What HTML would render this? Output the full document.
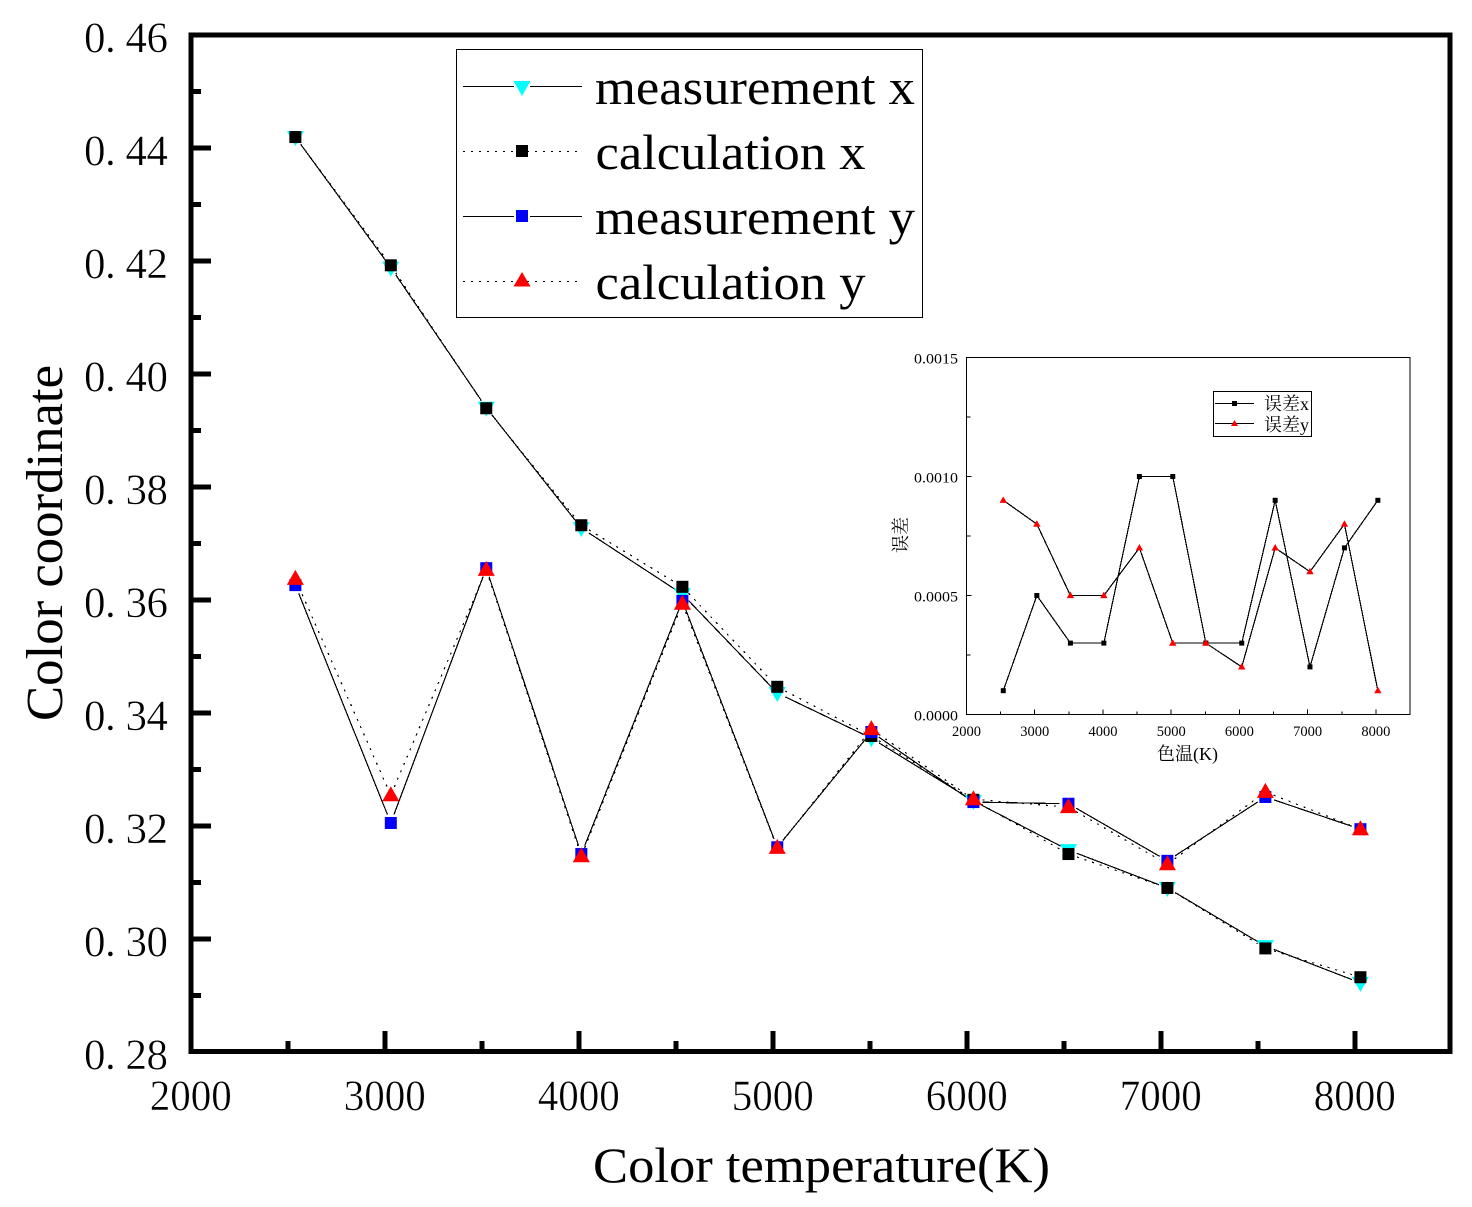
<!DOCTYPE html>
<html lang="en">
<head>
<meta charset="utf-8">
<title>Color coordinate vs color temperature</title>
<style>
html,body{margin:0;padding:0;background:#fff;}
svg{display:block;}
text{font-family:"Liberation Serif","Noto Serif CJK SC",serif;fill:#000;}
.thin{stroke:#fff;stroke-width:0.45px;}
</style>
</head>
<body>
<svg id="chart" xmlns="http://www.w3.org/2000/svg" width="1472" height="1207" viewBox="0 0 1472 1207">
  <rect x="0" y="0" width="1472" height="1207" fill="#fff"/>
  <g id="main-plot"></g>
  <rect x="190.8" y="34.8" width="1259" height="1016.7" fill="none" stroke="#000" stroke-width="5" shape-rendering="crispEdges"/>
  <text x="593" y="1182" font-size="50" textLength="457" lengthAdjust="spacingAndGlyphs">Color temperature(K)</text>
  <text transform="translate(62 721) rotate(-90)" font-size="52" textLength="356" lengthAdjust="spacingAndGlyphs">Color coordinate</text>

  <g>
    <rect x="456.5" y="49.5" width="466" height="268" fill="#fff" stroke="#000" stroke-width="1" shape-rendering="crispEdges"/>
    <g>
      <line x1="463" y1="86.5" x2="514" y2="86.5" stroke="#000" stroke-width="1"/>
      <line x1="530" y1="86.5" x2="582" y2="86.5" stroke="#000" stroke-width="1"/>
      <polygon points="513.5,81 530.5,81 522,96" fill="#00ffff"/>
      <text x="595" y="104" font-size="50" textLength="320" lengthAdjust="spacingAndGlyphs">measurement x</text>
    </g>
    <g>
      <line x1="463" y1="151.5" x2="582" y2="151.5" stroke="#000" stroke-width="1" stroke-dasharray="2 6"/>
      <rect x="516" y="145" width="12" height="12" fill="#000"/>
      <text x="595.5" y="169" font-size="50" textLength="270" lengthAdjust="spacingAndGlyphs">calculation x</text>
    </g>
    <g>
      <line x1="463" y1="216.5" x2="514" y2="216.5" stroke="#000" stroke-width="1"/>
      <line x1="530" y1="216.5" x2="582" y2="216.5" stroke="#000" stroke-width="1"/>
      <rect x="516" y="210" width="12" height="12" fill="#0000ff"/>
      <text x="595" y="234" font-size="50" textLength="320" lengthAdjust="spacingAndGlyphs">measurement y</text>
    </g>
    <g>
      <line x1="463" y1="281.5" x2="582" y2="281.5" stroke="#000" stroke-width="1" stroke-dasharray="2 6"/>
      <polygon points="522,272 530.5,286.5 513.5,286.5" fill="#ff0000"/>
      <text x="595.5" y="299" font-size="50" textLength="270" lengthAdjust="spacingAndGlyphs">calculation y</text>
    </g>
  </g>

  <g id="inset-plot"></g>
  <rect x="966.5" y="357.5" width="443.5" height="357" fill="none" stroke="#000" stroke-width="1" shape-rendering="crispEdges"/>
  <text x="1157" y="760" font-size="18">色温(K)</text>
  <text transform="translate(907 553) rotate(-90)" font-size="18">误差</text>

  <g>
    <rect x="1213.5" y="391.5" width="98" height="45" fill="#fff" stroke="#000" stroke-width="1" shape-rendering="crispEdges"/>
    <g>
      <line x1="1215" y1="403.5" x2="1254" y2="403.5" stroke="#000" stroke-width="1"/>
      <rect x="1232" y="401" width="5" height="5" fill="#000"/>
      <text x="1264" y="410" font-size="18">误差x</text>
    </g>
    <g>
      <line x1="1215" y1="423.5" x2="1254" y2="423.5" stroke="#000" stroke-width="1"/>
      <polygon points="1234.5,420 1238,426 1231,426" fill="#ff0000"/>
      <text x="1264" y="431" font-size="18">误差y</text>
    </g>
  </g>
</svg>

<script>
// Shared colour temperature categories (K)
var temperatures = [2539, 3031, 3523, 4013, 4534, 5023, 5508, 6034, 6524, 7034, 7539, 8029];

// Main chart series
var measurementX = [0.4419, 0.4188, 0.3940, 0.3727, 0.3610, 0.3435, 0.3355, 0.3244, 0.3157, 0.3090, 0.2987, 0.2922];
var calculationX = [0.4419, 0.4192, 0.3939, 0.3732, 0.3623, 0.3446, 0.3359, 0.3246, 0.3150, 0.3090, 0.2983, 0.2932];
var measurementY = [0.3626, 0.3205, 0.3656, 0.3150, 0.3598, 0.3162, 0.3366, 0.3242, 0.3239, 0.3138, 0.3251, 0.3194];
var calculationY = [0.3637, 0.3254, 0.3653, 0.3146, 0.3593, 0.3161, 0.3371, 0.3247, 0.3233, 0.3132, 0.3260, 0.3194];

// Main chart axes
var mainXTicks = [2000, 3000, 4000, 5000, 6000, 7000, 8000];
var mainXMinorTicks = [2500, 3500, 4500, 5500, 6500, 7500];
var mainYTicks = [0.46, 0.44, 0.42, 0.40, 0.38, 0.36, 0.34, 0.32, 0.30, 0.28];
var mainYMinorTicks = [0.45, 0.43, 0.41, 0.39, 0.37, 0.35, 0.33, 0.31, 0.29];
var mainYTickLabels = ['0. 46', '0. 44', '0. 42', '0. 40', '0. 38', '0. 36', '0. 34', '0. 32', '0. 30', '0. 28'];

// Inset chart series
var errorX = [0.0001, 0.0005, 0.0003, 0.0003, 0.0010, 0.0010, 0.0003, 0.0003, 0.0009, 0.0002, 0.0007, 0.0009];
var errorY = [0.0009, 0.0008, 0.0005, 0.0005, 0.0007, 0.0003, 0.0003, 0.0002, 0.0007, 0.0006, 0.0008, 0.0001];

// Inset chart axes
var insetXTicks = [2000, 3000, 4000, 5000, 6000, 7000, 8000];
var insetXMinorTicks = [2500, 3500, 4500, 5500, 6500, 7500];
var insetYTicks = [0.0000, 0.0005, 0.0010, 0.0015];
var insetYMinorTicks = [0.00025, 0.00075, 0.00125];
var insetYTickLabels = ['0.0000', '0.0005', '0.0010', '0.0015'];

var SVGNS = 'http://www.w3.org/2000/svg';

function mainXScale(v) { return 190.8 + (v - 2000) * 0.194; }
function mainYScale(v) { return 34.8 + (0.46 - v) * 5650; }
function insetXScale(v) { return 966.5 + (v - 2000) * 443.5 / 6500; }
function insetYScale(v) { return 714.5 - v * 357 / 0.0015; }

function make(tag, parent, props) {
  var el = document.createElementNS(SVGNS, tag);
  for (var k in props) { el.setAttribute(k, props[k]); }
  parent.appendChild(el);
  return el;
}

function drawSeriesLine(parent, xs, ys, xScale, yScale, gap, dash, name) {
  var group = make('g', parent, {});
  
  
  for (var i = 0; i < xs.length - 1; i++) {
    var x1 = xScale(xs[i]), y1 = yScale(ys[i]);
    var x2 = xScale(xs[i + 1]), y2 = yScale(ys[i + 1]);
    var dx = x2 - x1, dy = y2 - y1;
    var len = Math.sqrt(dx * dx + dy * dy);
    if (len <= gap * 2) { continue; }
    var ux = dx / len, uy = dy / len;
    var seg = make('line', group, {
      x1: x1 + ux * gap, y1: y1 + uy * gap,
      x2: x2 - ux * gap, y2: y2 - uy * gap,
      stroke: '#000', 'stroke-width': 1.2, 'shape-rendering': 'crispEdges'
    });
    if (dash) { seg.setAttribute('stroke-dasharray', dash); }
    
    
  }
}

function drawMarkers(parent, xs, ys, xScale, yScale, kind, size, color, name) {
  var group = make('g', parent, {});
  
  
  for (var i = 0; i < xs.length; i++) {
    var cx = xScale(xs[i]), cy = yScale(ys[i]);
    var mark;
    if (kind === 'square') {
      mark = make('rect', group, { x: cx - size / 2, y: cy - size / 2, width: size, height: size, fill: color });
    } else if (kind === 'up') {
      var w = size * 0.57, top = size * 0.6, bot = size * 0.4;
      mark = make('polygon', group, { points: cx + ',' + (cy - top) + ' ' + (cx + w) + ',' + (cy + bot) + ' ' + (cx - w) + ',' + (cy + bot), fill: color });
    } else {
      var w2 = size * 0.57, top2 = size * 0.4, bot2 = size * 0.6;
      mark = make('polygon', group, { points: (cx - w2) + ',' + (cy - top2) + ' ' + (cx + w2) + ',' + (cy - top2) + ' ' + cx + ',' + (cy + bot2), fill: color });
    }
    
    
  }
}

var mainPlot = document.getElementById('main-plot');
var insetPlot = document.getElementById('inset-plot');

// Main axis ticks and labels (no tick mark at the axis origin or far end)
mainXTicks.forEach(function (v, i) {
  var x = mainXScale(v);
  if (i > 0) {
    var tick = make('line', mainPlot, { x1: x, y1: 1031, x2: x, y2: 1051, stroke: '#000', 'stroke-width': 5, 'shape-rendering': 'crispEdges' });
    
    
  }
  var label = make('text', mainPlot, { x: x - 41, y: 1110, 'font-size': 43, textLength: 82, lengthAdjust: 'spacingAndGlyphs', 'class': 'thin' });
  label.textContent = String(v);
  
  
});
mainXMinorTicks.forEach(function (v) {
  var x = mainXScale(v);
  var tick = make('line', mainPlot, { x1: x, y1: 1041, x2: x, y2: 1051, stroke: '#000', 'stroke-width': 5, 'shape-rendering': 'crispEdges' });
  
  
});
mainYTicks.forEach(function (v, i) {
  var y = mainYScale(v);
  if (i > 0 && i < mainYTicks.length - 1) {
    var tick = make('line', mainPlot, { x1: 191, y1: y, x2: 211, y2: y, stroke: '#000', 'stroke-width': 5, 'shape-rendering': 'crispEdges' });
    
    
  }
  var label = make('text', mainPlot, { x: 84, y: y + 17, 'font-size': 43, textLength: 84, lengthAdjust: 'spacing', 'class': 'thin' });
  label.textContent = mainYTickLabels[i];
  
  
});
mainYMinorTicks.forEach(function (v) {
  var y = mainYScale(v);
  var tick = make('line', mainPlot, { x1: 191, y1: y, x2: 201, y2: y, stroke: '#000', 'stroke-width': 5, 'shape-rendering': 'crispEdges' });
  
  
});

// Main series
drawSeriesLine(mainPlot, temperatures, measurementX, mainXScale, mainYScale, 9, null, 'measurement-x-line');
drawSeriesLine(mainPlot, temperatures, calculationX, mainXScale, mainYScale, 9, '2 6', 'calculation-x-line');
drawSeriesLine(mainPlot, temperatures, measurementY, mainXScale, mainYScale, 9, null, 'measurement-y-line');
drawSeriesLine(mainPlot, temperatures, calculationY, mainXScale, mainYScale, 9, '2 6', 'calculation-y-line');
drawMarkers(mainPlot, temperatures, measurementX, mainXScale, mainYScale, 'down', 15, '#00ffff', 'measurement-x-markers');
drawMarkers(mainPlot, temperatures, calculationX, mainXScale, mainYScale, 'square', 12, '#000000', 'calculation-x-markers');
drawMarkers(mainPlot, temperatures, measurementY, mainXScale, mainYScale, 'square', 12, '#0000ff', 'measurement-y-markers');
drawMarkers(mainPlot, temperatures, calculationY, mainXScale, mainYScale, 'up', 15, '#ff0000', 'calculation-y-markers');

// Inset axis ticks and labels
insetXTicks.forEach(function (v) {
  var x = insetXScale(v);
  var tick = make('line', insetPlot, { x1: x, y1: 709.5, x2: x, y2: 714.5, stroke: '#000', 'stroke-width': 1, 'shape-rendering': 'crispEdges' });
  
  
  var label = make('text', insetPlot, { x: x - 14.5, y: 736, 'font-size': 14.5, textLength: 29, lengthAdjust: 'spacingAndGlyphs' });
  label.textContent = String(v);
  
  
});
insetXMinorTicks.forEach(function (v) {
  var x = insetXScale(v);
  var tick = make('line', insetPlot, { x1: x, y1: 711.5, x2: x, y2: 714.5, stroke: '#000', 'stroke-width': 1, 'shape-rendering': 'crispEdges' });
  
  
});
insetYTicks.forEach(function (v, i) {
  var y = insetYScale(v);
  var tick = make('line', insetPlot, { x1: 966.5, y1: y, x2: 971.5, y2: y, stroke: '#000', 'stroke-width': 1, 'shape-rendering': 'crispEdges' });
  
  
  var label = make('text', insetPlot, { x: 914, y: y + 6, 'font-size': 14.5, textLength: 44, lengthAdjust: 'spacingAndGlyphs' });
  label.textContent = insetYTickLabels[i];
  
  
});
insetYMinorTicks.forEach(function (v) {
  var y = insetYScale(v);
  var tick = make('line', insetPlot, { x1: 966.5, y1: y, x2: 970.5, y2: y, stroke: '#000', 'stroke-width': 1, 'shape-rendering': 'crispEdges' });
  
  
});

// Inset series
drawSeriesLine(insetPlot, temperatures, errorX, insetXScale, insetYScale, 0, null, 'error-x-line');
drawSeriesLine(insetPlot, temperatures, errorY, insetXScale, insetYScale, 0, null, 'error-y-line');
drawMarkers(insetPlot, temperatures, errorX, insetXScale, insetYScale, 'square', 5, '#000000', 'error-x-markers');
drawMarkers(insetPlot, temperatures, errorY, insetXScale, insetYScale, 'up', 6.5, '#ff0000', 'error-y-markers');
</script>
</body>
</html>
